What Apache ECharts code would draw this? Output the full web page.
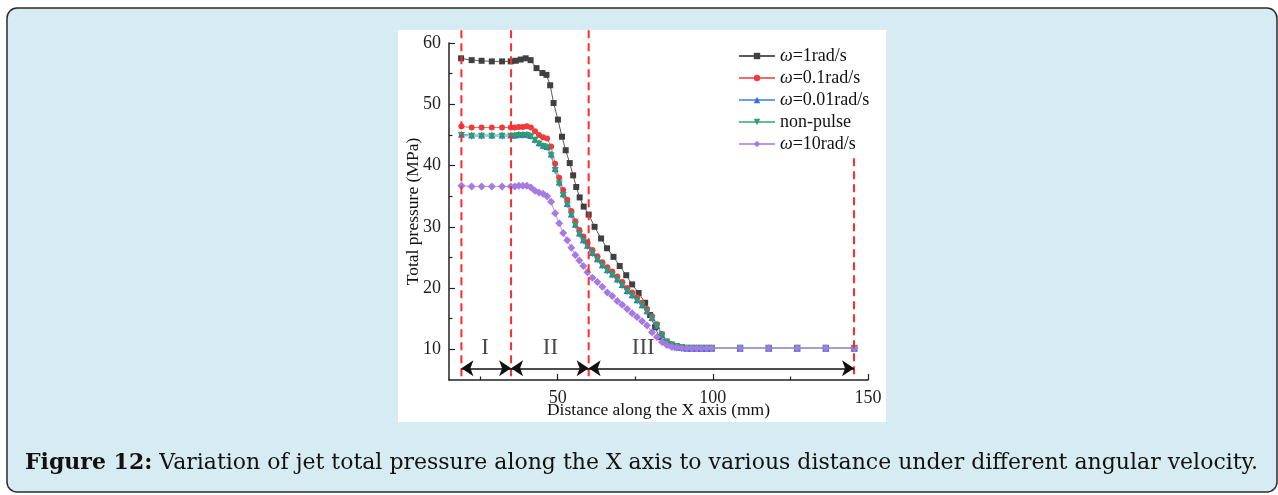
<!DOCTYPE html>
<html>
<head>
<meta charset="utf-8">
<script src="https://cdn.jsdelivr.net/npm/echarts@6/dist/echarts.min.js"></script>
<style>
  html, body { margin: 0; padding: 0; background: #fff; }
  #chart { width: 1278px; height: 495px; }
</style>
</head>
<body>
<div id="chart"></div>
<script>
// distance along X (mm) for the coloured series
const xColored = [19.0, 22.3, 25.5, 28.8, 32.1,
  34.9, 36.2, 37.5, 38.8, 40.1, 41.4, 42.7, 44.0, 45.3, 46.6, 47.9, 49.2, 50.5, 51.8, 53.1, 54.4, 55.7, 57.0, 58.3, 59.6,
  61.2, 62.8, 64.4, 66.0, 67.6, 69.2, 70.8, 72.4, 74.0, 75.6, 77.2, 78.8, 80.4, 82.0, 83.6, 85.2, 86.8, 88.4, 90.0, 91.6, 93.2, 94.8, 96.4, 98.0, 99.6,
  108.8, 118.0, 127.2, 136.4, 145.6];

const yRed = [46.4, 46.2, 46.2, 46.2, 46.2,
  46.2, 46.2, 46.3, 46.3, 46.4, 46.2, 45.6, 45.0, 44.6, 44.4, 43.1, 40.3, 38.0, 36.0, 34.4, 32.6, 30.9, 29.5, 28.4, 27.5,
  26.2, 25.2, 24.2, 23.4, 22.7, 21.9, 21.0, 20.0, 19.3, 18.5, 17.6, 16.6, 15.4, 14.1, 12.5, 11.3, 10.7, 10.4, 10.3, 10.2, 10.2, 10.2, 10.2, 10.2, 10.2,
  10.2, 10.2, 10.2, 10.2, 10.2];

const yBlue = [45.1, 45.0, 45.0, 45.0, 45.0,
  45.0, 45.0, 45.1, 45.1, 45.1, 44.9, 44.3, 43.7, 43.3, 43.1, 41.9, 39.5, 37.3, 35.4, 33.8, 32.1, 30.4, 29.0, 27.9, 27.0,
  25.8, 24.8, 23.8, 23.0, 22.3, 21.5, 20.6, 19.6, 18.9, 18.1, 17.3, 16.3, 15.2, 13.9, 12.4, 11.2, 10.7, 10.4, 10.3, 10.2, 10.2, 10.2, 10.2, 10.2, 10.2,
  10.2, 10.2, 10.2, 10.2, 10.2];

const yGreen = [44.9, 44.8, 44.8, 44.8, 44.8,
  44.8, 44.8, 44.9, 44.9, 44.9, 44.7, 44.1, 43.5, 43.1, 42.9, 41.6, 39.2, 37.0, 35.1, 33.6, 31.9, 30.2, 28.8, 27.7, 26.8,
  25.6, 24.6, 23.6, 22.8, 22.1, 21.3, 20.4, 19.4, 18.7, 17.9, 17.1, 16.1, 15.0, 13.8, 12.3, 11.2, 10.7, 10.4, 10.3, 10.2, 10.2, 10.2, 10.2, 10.2, 10.2,
  10.2, 10.2, 10.2, 10.2, 10.2];

const yPurple = [36.7, 36.6, 36.6, 36.6, 36.6,
  36.6, 36.6, 36.7, 36.7, 36.7, 36.4, 35.9, 35.6, 35.4, 35.0, 34.1, 32.2, 30.6, 29.0, 27.8, 26.6, 25.4, 24.5, 23.6, 22.6,
  21.7, 21.0, 20.2, 19.3, 18.7, 17.9, 17.3, 16.6, 15.9, 15.3, 14.6, 13.9, 12.8, 12.0, 11.2, 10.7, 10.4, 10.3, 10.2, 10.2, 10.2, 10.2, 10.2, 10.2, 10.2,
  10.2, 10.2, 10.2, 10.2, 10.2];

// the 1 rad/s curve was sampled on its own grid
const xBlack = [18.9, 22.3, 25.5, 28.8, 32.1,
  34.9, 36.5, 38.1, 39.7, 41.3, 43.2, 45.1, 46.4, 47.6, 48.7,
  50.1, 51.4, 52.6, 53.9, 55.0, 56.0, 57.1, 58.4, 60.0,
  61.9, 64.0, 65.9, 68.0, 70.0, 72.1, 74.0, 76.1, 78.2, 79.8,
  81.4, 82.8, 84.3, 86.2, 88.4,
  90.0, 91.6, 93.2, 94.8, 96.4, 98.0, 99.6,
  108.8, 118.0, 127.2, 136.4, 145.6];
const yBlack = [57.5, 57.2, 57.1, 57.0, 57.0,
  57.0, 57.1, 57.3, 57.5, 57.2, 55.9, 55.1, 54.8, 53.1, 50.2,
  47.5, 44.7, 42.5, 40.4, 38.4, 36.5, 34.8, 33.3, 32.0,
  30.0, 28.1, 26.5, 25.1, 23.6, 22.1, 20.6, 19.2, 17.6, 15.6,
  13.6, 12.0, 11.2, 10.8, 10.5,
  10.3, 10.2, 10.2, 10.2, 10.2, 10.2, 10.2,
  10.2, 10.2, 10.2, 10.2, 10.2];

const seriesNames = ['ω=1rad/s', 'ω=0.1rad/s', 'ω=0.01rad/s', 'non-pulse', 'ω=10rad/s'];

// zone boundaries (mm) and top end of each dashed line (MPa)
const dividerX = [19, 35, 60, 145.5];
const dividerTop = [62.1, 62.1, 62.1, 41.2];
const regionNames = ['I', 'II', 'III'];
const regionLabelX = [26.6, 47.7, 77.6];
const regionLabelY = 10.2;
const arrowY = 6.9;

const xMajor = [50, 100, 150];
const xMinor = [25, 75, 125];
const yMajor = [10, 20, 30, 40, 50, 60];
const yMinor = [15, 25, 35, 45, 55];

const zip = (xs, ys) => xs.map((x, i) => [x, ys[i]]);

const serif = 'Liberation Serif';
const styles = [
  { color: '#404040', line: '#5a5a5a', symbol: 'rect', size: 6 },
  { color: '#ee3b3b', line: '#f06a6a', symbol: 'circle', size: 6 },
  { color: '#2f6fe0', line: '#6b9cf0', symbol: 'triangle', size: 7 },
  { color: '#2f9e6a', line: '#5fbf8f', symbol: 'path://M0,0L10,0L5,9Z', size: 7 },
  { color: '#a679e3', line: '#bb98ec', symbol: 'diamond', size: 8 }
];
const seriesData = [zip(xBlack, yBlack), zip(xColored, yRed), zip(xColored, yBlue), zip(xColored, yGreen), zip(xColored, yPurple)];

const chart = echarts.init(document.getElementById('chart'));

const series = seriesNames.map((name, i) => ({
  name: name,
  type: 'line',
  data: seriesData[i],
  symbol: styles[i].symbol,
  symbolSize: styles[i].size,
  showAllSymbol: true,
  itemStyle: { color: styles[i].color },
  lineStyle: { color: styles[i].line, width: 1 },
  z: 3
}));

dividerX.forEach((x, i) => {
  series.push({
    type: 'line',
    data: [[x, dividerTop[i]], [x, 5]],
    symbol: 'none',
    clip: false,
    silent: true,
    lineStyle: { color: '#ff2a2a', width: 2, type: [8, 5] },
    z: 4
  });
});

series.push({
  type: 'scatter',
  data: regionNames.map((n, i) => [regionLabelX[i], regionLabelY, n]),
  symbolSize: 1,
  itemStyle: { color: 'transparent' },
  silent: true,
  label: {
    show: true,
    position: 'inside',
    formatter: p => p.value[2],
    fontFamily: serif,
    fontSize: 23,
    color: '#1a1a1a'
  },
  markLine: {
    silent: true,
    symbol: ['arrow', 'arrow'],
    symbolSize: 12,
    label: { show: false },
    lineStyle: { color: '#111', width: 1.5, type: 'solid' },
    data: regionNames.map((n, i) => [
      { coord: [dividerX[i], arrowY] },
      { coord: [dividerX[i + 1], arrowY] }
    ])
  },
  z: 5
});

chart.setOption({
  animation: false,
  backgroundColor: '#fff',
  graphic: [
    { type: 'rect', z: -10, shape: { x: 7, y: 8, width: 1270, height: 484, r: 10 },
      style: { fill: '#d7ecf2', stroke: '#2b2b2b', lineWidth: 1.5 } },
    { type: 'rect', z: -9, shape: { x: 398, y: 30, width: 488, height: 392 },
      style: { fill: '#ffffff' } },
    { type: 'text', z: -8, x: 25, y: 463,
      style: {
        text: '{b|Figure 12:} Variation of jet total pressure along the X axis to various distance under different angular velocity.',
        fontFamily: 'DejaVu Serif', fontSize: 22, fill: '#111', verticalAlign: 'middle',
        rich: { b: { fontFamily: 'DejaVu Serif', fontSize: 22, fontWeight: 'bold', fill: '#111' } }
      } }
  ],
  grid: { left: 449, right: 410, top: 43, bottom: 115 },
  legend: {
    data: seriesNames,
    orient: 'vertical',
    left: 733,
    top: 42,
    itemWidth: 36,
    itemHeight: 8,
    itemGap: 4,
    selectedMode: false,
    formatter: name => name.replace('ω', '{w|ω}'),
    textStyle: {
      fontFamily: serif, fontSize: 18, lineHeight: 18, color: '#111',
      rich: { w: { fontFamily: serif, fontSize: 18, fontStyle: 'italic', color: '#111' } }
    }
  },
  xAxis: [
    {
      type: 'value', min: 15, max: 150,
      name: 'Distance along the X axis (mm)', nameLocation: 'middle', nameGap: 21,
      nameMoveOverlap: false,
      nameTextStyle: { fontFamily: serif, fontSize: 17.5, color: '#111' },
      axisLine: { show: true, lineStyle: { color: '#222', width: 1.5 } },
      axisTick: { show: true, inside: true, length: 6, customValues: xMajor, lineStyle: { color: '#222', width: 1.2 } },
      axisLabel: { customValues: xMajor, margin: 9, fontFamily: serif, fontSize: 18, color: '#222' },
      splitLine: { show: false }
    },
    {
      type: 'value', min: 15, max: 150, position: 'bottom',
      axisLine: { show: false },
      axisTick: { show: true, inside: true, length: 3.5, customValues: xMinor, lineStyle: { color: '#222', width: 1.2 } },
      axisLabel: { show: false },
      splitLine: { show: false }
    }
  ],
  yAxis: [
    {
      type: 'value', min: 5, max: 60,
      name: 'Total pressure (MPa)', nameLocation: 'middle', nameGap: 27,
      nameMoveOverlap: false,
      nameTextStyle: { fontFamily: serif, fontSize: 17.5, color: '#111' },
      axisLine: { show: true, lineStyle: { color: '#222', width: 1.5 } },
      axisTick: { show: true, inside: true, length: 6, customValues: yMajor, lineStyle: { color: '#222', width: 1.2 } },
      axisLabel: { customValues: yMajor, margin: 8, fontFamily: serif, fontSize: 18, color: '#222' },
      splitLine: { show: false }
    },
    {
      type: 'value', min: 5, max: 60, position: 'left',
      axisLine: { show: false },
      axisTick: { show: true, inside: true, length: 3.5, customValues: yMinor, lineStyle: { color: '#222', width: 1.2 } },
      axisLabel: { show: false },
      splitLine: { show: false }
    }
  ],
  series: series
});
</script>
</body>
</html>
